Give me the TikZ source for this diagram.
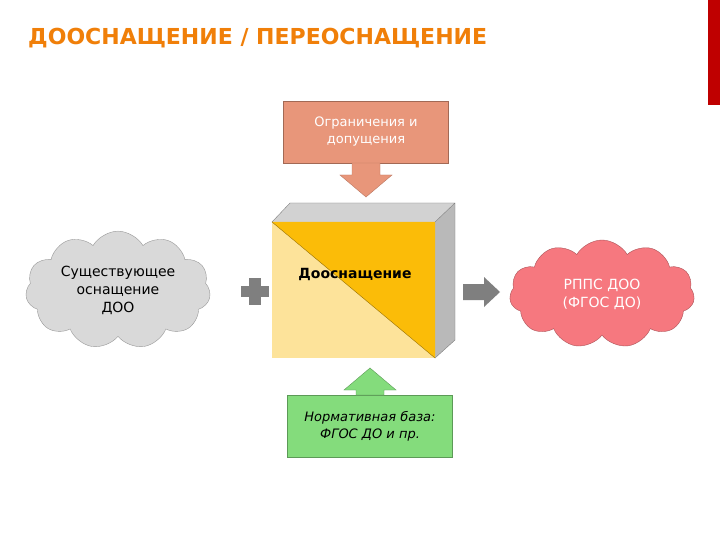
\documentclass[tikz,border=0pt]{standalone}
\usepackage{fontspec}
\setmainfont{DejaVu Sans}
\usetikzlibrary{shapes.symbols}
\definecolor{ttl}{HTML}{F07F09}
\definecolor{salm}{HTML}{E8967A}
\definecolor{grn}{HTML}{84DC7C}
\definecolor{orng}{HTML}{FBBC08}
\definecolor{lite}{HTML}{FDE39A}
\definecolor{pinkc}{HTML}{F6787F}
\definecolor{gcl}{HTML}{D9D9D9}
\definecolor{gry}{HTML}{7F7F7F}
\tikzset{
 cloudn/.style={cloud, cloud puffs=11, cloud puff arc=120, aspect=1.7, draw=#1!70!black, fill=#1, align=center, font=\fontsize{14}{18}\selectfont, minimum width=185pt, minimum height=108pt, inner sep=0pt},
 boxn/.style={draw=#1!70!black, fill=#1, align=center, minimum width=165pt, minimum height=62pt, font=\fontsize{13}{17}\selectfont},
}
\begin{document}
\begin{tikzpicture}[x=1pt,y=-1pt]
\useasboundingbox (0,0) rectangle (720,540);
\fill[white] (0,0) rectangle (720,540);
\fill[red!75!black] (708,0) rectangle (720,105);
\node[anchor=west, text=ttl, font=\bfseries\fontsize{22}{24}\selectfont, inner sep=0pt] (title) at (28,38) {ДООСНАЩЕНИЕ / ПЕРЕОСНАЩЕНИЕ};
% cube
\fill[gray!35] (272,222) -- (290,203) -- (455,203) -- (435,222) -- cycle;
\fill[gray!55] (435,222) -- (455,203) -- (455,340) -- (435,358) -- cycle;
\draw[gray] (272,222) -- (290,203) -- (455,203) -- (455,340) -- (435,358) (435,222) -- (455,203);
\fill[lite] (272,222) rectangle (435,358);
\fill[orng] (272,222) -- (435,222) -- (435,358) -- cycle;
\draw[orng!60!black] (272,222) -- (435,358);
\node[font=\bfseries\fontsize{14}{17}\selectfont] (cube) at (355,274) {Дооснащение};
% top box
\node[boxn=salm, text=white] (lim) at (366,132) {Ограничения и\\допущения};
\filldraw[fill=salm, draw=salm!80!black] (352,163) -- (352,175) -- (340,175) -- (366,197) -- (392,175) -- (380,175) -- (380,163) -- cycle;
% bottom box
\node[boxn=grn, font=\itshape\fontsize{13}{17}\selectfont] (norm) at (370,426) {Нормативная база:\\ФГОС ДО и пр.};
\filldraw[fill=grn, draw=grn!70!black] (356,395) -- (356,390) -- (344,390) -- (370,368) -- (396,390) -- (384,390) -- (384,395) -- cycle;
% clouds
\node[cloudn=gcl] (left) at (118,290) {Существующее\\оснащение\\ДОО};
\node[cloudn=pinkc, text=white] (right) at (602,294) {РППС ДОО\\(ФГОС ДО)};
% plus
\fill[gry] (241,286) rectangle (269,297);
\fill[gry] (249,278) rectangle (261,305);
% right arrow
\fill[gry] (463,284) -- (484,284) -- (484,277) -- (500,292) -- (484,307) -- (484,300) -- (463,300) -- cycle;
\end{tikzpicture}
\end{document}
